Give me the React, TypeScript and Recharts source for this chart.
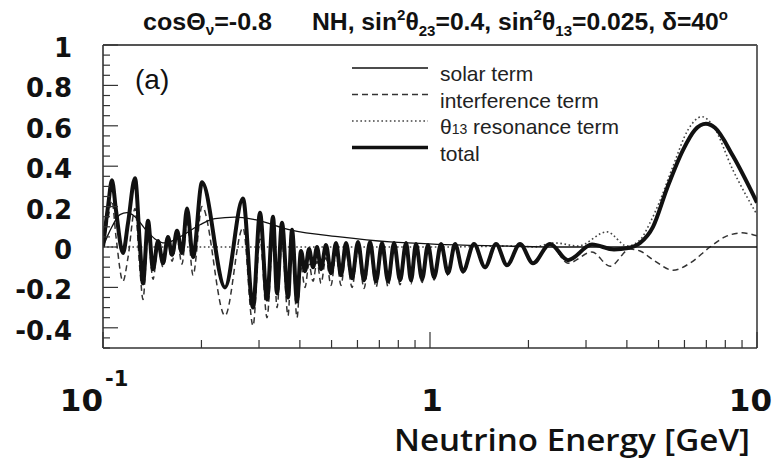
import React from 'react';
import { LineChart, Line, XAxis, YAxis, ReferenceLine } from 'recharts';

// [energy in GeV, value]
const solarTerm: [number, number][] = [
  [0.1, 0], [0.1036, 0.06], [0.1065, 0.1], [0.1127, 0.16], [0.1184, 0.17], [0.1253, 0.15],
  [0.1344, 0.09], [0.1442, 0.04], [0.1547, 0.02], [0.172, 0.05], [0.198, 0.11], [0.22, 0.14],
  [0.2533, 0.148], [0.2917, 0.135], [0.3732, 0.085], [0.5306, 0.05], [0.7548, 0.025],
  [1.073, 0.013], [1.637, 0.005], [2.498, 0], [10, 0],
];

const interferenceTerm: [number, number][] = [
  [0.1, 0], [0.1036, 0.14], [0.1065, 0.23], [0.1096, 0.05], [0.1151, -0.17], [0.1193, -0.05],
  [0.1253, 0.19], [0.1298, -0.12], [0.1325, -0.26], [0.1373, 0.055], [0.1422, -0.16], [0.1473, 0],
  [0.1526, -0.1], [0.158, 0.025], [0.1626, -0.07], [0.1684, 0.04], [0.1744, -0.085], [0.1807, 0.12],
  [0.1885, -0.14], [0.2008, 0.2], [0.2361, -0.34], [0.268, 0.095], [0.2876, -0.39], [0.3021, 0.04],
  [0.3174, -0.35], [0.3311, 0.04], [0.3405, -0.3], [0.3527, 0.02], [0.368, -0.34], [0.3785, 0],
  [0.392, -0.35], [0.4032, -0.1], [0.4147, -0.2], [0.4266, -0.085], [0.4388, -0.17], [0.4513, -0.07],
  [0.4642, -0.18], [0.4808, -0.053], [0.498, -0.19], [0.5159, -0.033], [0.5344, -0.19],
  [0.5536, -0.027], [0.5775, -0.2], [0.6024, -0.017], [0.6285, -0.205], [0.6556, -0.011],
  [0.6839, -0.2], [0.7134, -0.01], [0.7443, -0.197], [0.7764, -0.004], [0.8099, -0.187],
  [0.8449, 0], [0.8748, -0.183], [0.9061, -0.002], [0.9457, -0.176], [0.986, -0.004],
  [1.029, -0.163], [1.081, 0.003], [1.135, -0.141], [1.193, 0.005], [1.262, -0.129], [1.363, 0.007],
  [1.473, -0.107], [1.592, 0.009], [1.72, -0.095], [1.885, 0.011], [2.065, -0.083], [2.328, 0.013],
  [2.642, -0.08], [3.129, -0.025], [3.552, -0.095], [4.09, -0.01], [4.388, -0.02], [4.876, -0.07],
  [5.536, -0.115], [6.238, -0.08], [7.182, 0], [7.982, 0.05], [8.996, 0.07], [10, 0.055],
];

const resonanceTerm: [number, number][] = [
  [0.1, 0], [1.073, 0], [1.885, 0.005], [2.065, 0], [2.411, 0.02], [2.835, 0.005], [3.478, 0.075],
  [4.004, 0.005], [4.388, 0.035], [4.708, 0.12], [5.051, 0.23], [5.536, 0.4], [6.151, 0.58],
  [6.788, 0.645], [7.335, 0.6], [8.445, 0.38], [10, 0.16],
];

const totalProb: [number, number][] = [
  [0.1, 0], [0.1036, 0.2], [0.1065, 0.33], [0.1096, 0.18], [0.1151, -0.03], [0.1193, 0.12],
  [0.1253, 0.34], [0.1298, 0], [0.1325, -0.18], [0.1373, 0.13], [0.1422, -0.11], [0.1473, 0.03],
  [0.1526, -0.08], [0.158, 0.05], [0.1626, -0.04], [0.1684, 0.08], [0.1744, -0.03], [0.1807, 0.19],
  [0.1885, -0.05], [0.2008, 0.32], [0.2361, -0.2], [0.268, 0.24], [0.2876, -0.3], [0.3021, 0.17],
  [0.3174, -0.26], [0.3311, 0.15], [0.3405, -0.23], [0.3527, 0.12], [0.368, -0.25], [0.3785, 0.085],
  [0.392, -0.27], [0.4032, -0.02], [0.4147, -0.12], [0.4266, -0.01], [0.4388, -0.1], [0.4513, 0],
  [0.4642, -0.11], [0.4808, 0.01], [0.498, -0.13], [0.5159, 0.02], [0.5344, -0.14], [0.5536, 0.02],
  [0.5775, -0.155], [0.6024, 0.025], [0.6285, -0.165], [0.6556, 0.025], [0.6839, -0.17],
  [0.7134, 0.02], [0.7443, -0.17], [0.7764, 0.02], [0.8099, -0.165], [0.8449, 0.02], [0.8748, -0.165],
  [0.9061, 0.015], [0.9457, -0.16], [0.986, 0.01], [1.029, -0.15], [1.081, 0.015], [1.135, -0.13],
  [1.193, 0.015], [1.262, -0.12], [1.363, 0.015], [1.473, -0.1], [1.592, 0.015], [1.72, -0.09],
  [1.885, 0.015], [2.065, -0.08], [2.328, 0.015], [2.642, -0.065], [3.129, 0.012], [3.653, -0.012],
  [4.032, -0.005], [4.388, 0.02], [4.808, 0.1], [5.306, 0.29], [5.938, 0.48], [6.462, 0.58],
  [6.982, 0.61], [7.439, 0.59], [8.445, 0.45], [10, 0.22],
];

const xMajorTicks = [0.1, 1, 10];
const xMinorTicks = [0.2, 0.3, 0.4, 0.5, 0.6, 0.7, 0.8, 0.9, 2, 3, 4, 5, 6, 7, 8, 9];
const yMajorTicks = [-0.4, -0.2, 0, 0.2, 0.4, 0.6, 0.8, 1];
const yTickLabels = ['-0.4', '-0.2', '0', '0.2', '0.4', '0.6', '0.8', '1'];
const yMinorTicks = Array.from({ length: 31 }, (_, i) => Math.round((-0.5 + i * 0.05) * 100) / 100);

const series = [
  { name: 'resonance', label: 'θ13 resonance term', points: resonanceTerm, width: 1.6, dash: '1.6 2.6', color: '#444' },
  { name: 'interference', label: 'interference term', points: interferenceTerm, width: 1.5, dash: '6 4', color: '#333' },
  { name: 'solar', label: 'solar term', points: solarTerm, width: 1.3, dash: undefined, color: '#111' },
  { name: 'total', label: 'total', points: totalProb, width: 4, dash: undefined, color: '#111' },
];
const legendOrder = ['solar', 'interference', 'resonance', 'total'];

const toRows = (pts: [number, number][]) => pts.map(([e, v]) => ({ e, v }));

const AXIS = '#333';
const boldFont = '"DejaVu Sans", sans-serif';
const helv = '"Liberation Sans", Arial, sans-serif';

function XTick(props: any) {
  const { x, y, payload } = props;
  const v = payload.value;
  const major = xMajorTicks.includes(v);
  return (
    <g>
      <line x1={x} x2={x} y1={y} y2={y - (major ? 16 : 8)} stroke={AXIS} strokeWidth={1.2} />
      {major && v === 0.1 && (
        <text x={x} y={y + 63} textAnchor="end" fontFamily={boldFont} fontWeight="bold" fontSize={31} fill="#111">
          10
        </text>
      )}
      {major && v === 0.1 && (
        <text x={x + 2} y={y + 38} fontFamily={boldFont} fontWeight="bold" fontSize={21} fill="#111">
          -1
        </text>
      )}
      {major && v === 1 && (
        <text x={x + 2} y={y + 63} textAnchor="middle" fontFamily={boldFont} fontWeight="bold" fontSize={31} fill="#111">
          1
        </text>
      )}
      {major && v === 10 && (
        <text x={x + 15} y={y + 63} textAnchor="end" fontFamily={boldFont} fontWeight="bold" fontSize={31} fill="#111">
          10
        </text>
      )}
    </g>
  );
}

function YTick(props: any) {
  const { x, y, payload } = props;
  const v = payload.value;
  const idx = yMajorTicks.findIndex((m) => Math.abs(m - v) < 1e-6);
  const major = idx >= 0;
  return (
    <g>
      <line x1={x} x2={x + (major ? 15 : 7)} y1={y} y2={y} stroke={AXIS} strokeWidth={1.2} />
      {major && (
        <text x={72} y={y + 3} textAnchor="end" dominantBaseline="central" fontFamily={boldFont} fontWeight="bold" fontSize={26} fill="#111">
          {yTickLabels[idx]}
        </text>
      )}
    </g>
  );
}

export default function App() {
  const legendItems = legendOrder.map((k) => series.find((s) => s.name === k)!);
  return (
    <div style={{ position: 'fixed', left: 0, top: 0, width: 778, height: 460, background: '#fff' }}>
      <LineChart width={778} height={460} margin={{ top: 45, right: 21, bottom: 111, left: 102 }}>
        <XAxis
          dataKey="e"
          type="number"
          scale="log"
          domain={[0.1, 10]}
          allowDataOverflow
          ticks={[...xMajorTicks, ...xMinorTicks]}
          interval={0}
          height={1}
          tickSize={0}
          tickMargin={0}
          tick={<XTick />}
          axisLine={{ stroke: AXIS, strokeWidth: 1.6 }}
        />
        <YAxis
          type="number"
          domain={[-0.5, 1]}
          ticks={yMinorTicks}
          interval={0}
          width={1}
          tickSize={0}
          tickMargin={0}
          tick={<YTick />}
          axisLine={{ stroke: AXIS, strokeWidth: 1.6 }}
        />
        <ReferenceLine y={1} stroke="#555" strokeWidth={1.8} />
        <ReferenceLine x={10} stroke="#555" strokeWidth={1.8} />
        {series.map((s) => (
          <Line
            key={s.name}
            data={toRows(s.points)}
            dataKey="v"
            type="monotone"
            stroke={s.color}
            strokeWidth={s.width}
            strokeDasharray={s.dash}
            dot={false}
            activeDot={false}
            isAnimationActive={false}
          />
        ))}
      </LineChart>
      <svg width={778} height={460} style={{ position: 'absolute', left: 0, top: 0, pointerEvents: 'none' }}>
        <text x={143} y={30} fontFamily={helv} fontWeight="bold" fontSize={23} fill="#111" textLength={129} lengthAdjust="spacingAndGlyphs">
          cosΘ<tspan dy={5} fontSize={14}>ν</tspan>
          <tspan dy={-5}>=-0.8</tspan>
        </text>
        <text x={312} y={30} fontFamily={helv} fontWeight="bold" fontSize={23} fill="#111" textLength={416} lengthAdjust="spacingAndGlyphs">
          NH, sin<tspan dy={-10} fontSize={14}>2</tspan>
          <tspan dy={10}>θ</tspan>
          <tspan dy={6} fontSize={14}>23</tspan>
          <tspan dy={-6}>=0.4, sin</tspan>
          <tspan dy={-10} fontSize={14}>2</tspan>
          <tspan dy={10}>θ</tspan>
          <tspan dy={6} fontSize={14}>13</tspan>
          <tspan dy={-6}>=0.025, δ=40</tspan>
          <tspan dy={-10} fontSize={14}>o</tspan>
        </text>
        <text x={135} y={89} fontFamily={helv} fontSize={28} fill="#111">
          (a)
        </text>
        {legendItems.map((s, i) => {
          const ly = 68 + i * 26.5;
          return (
            <g key={s.name}>
              <line x1={352} x2={428} y1={ly} y2={ly} stroke={s.color} strokeWidth={s.width === 4 ? 3.5 : s.width} strokeDasharray={s.dash} />
              <text x={440} y={ly + 13} fontFamily={helv} fontSize={21} fill="#222">
                {s.name === 'resonance' ? (
                  <>
                    θ<tspan fontSize={14}>13</tspan> resonance term
                  </>
                ) : (
                  s.label
                )}
              </text>
            </g>
          );
        })}
        <text x={750} y={451} textAnchor="end" fontFamily='"Open Sans", sans-serif' fontWeight={600} fontSize={30} fill="#111" textLength={356} lengthAdjust="spacingAndGlyphs">
          Neutrino Energy [GeV]
        </text>
      </svg>
    </div>
  );
}
